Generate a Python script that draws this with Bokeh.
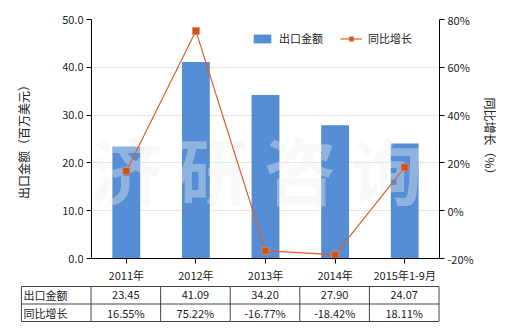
from bokeh.plotting import figure
from bokeh.models import (Range1d, LinearAxis, FactorRange, FixedTicker, NumeralTickFormatter,
                          PrintfTickFormatter, Legend, LegendItem)
from bokeh.layouts import column
from bokeh.embed import file_html
from bokeh.resources import INLINE
from bokeh.core.properties import value

# ---------------- data ----------------
categories = ["2011年", "2012年", "2013年", "2014年", "2015年1-9月"]
export_values = [23.45, 41.09, 34.20, 27.90, 24.07]
growth_values = [16.55, 75.22, -16.77, -18.42, 18.11]
left_ticks = [0, 10, 20, 30, 40, 50]
right_ticks = [-20, 0, 20, 40, 60, 80]
series_names = ["出口金额", "同比增长"]
left_axis_title = "出口金额（百万美元）"
right_axis_title = "同比增长（%）"
watermark_chars = ["济", "研", "咨", "询"]

# ---------------- style ----------------
FONT = "Noto Sans CJK SC"
W, H1, H2 = 520, 285, 45
BL, BR, BT, BB = 91, 81, 19, 26
BAR_COLOR = "#558ED5"
LINE_COLOR = "#D8602A"
MARK_COLOR = "#C8531B"
TEXT_COLOR = "#222222"

p = figure(width=W, height=H1, x_range=FactorRange(*categories), y_range=Range1d(0, 50),
           output_backend="svg", toolbar_location=None,
           min_border_left=BL, min_border_right=BR, min_border_top=BT, min_border_bottom=BB)
p.outline_line_color = None
p.frame_align = False
p.extra_y_ranges = {"pct": Range1d(-20, 80)}

bars = p.vbar(x=categories, top=export_values, width=0.4, fill_color=BAR_COLOR, line_color=None)

# watermark
wm_x = [0.5, 1.75, 3.0, 4.24]
p.text(x=wm_x, y=[19] * 4, text=watermark_chars, text_font=value(FONT), text_font_size="72px",
       text_font_style="bold", text_color="#EEEEEE", text_alpha=0.38,
       text_align="center", text_baseline="middle")

growth_line = p.line(x=categories, y=growth_values, y_range_name="pct",
                     line_color=LINE_COLOR, line_width=1.2)
growth_marks = p.scatter(x=categories, y=growth_values, y_range_name="pct", marker="square", size=7,
                         fill_color=MARK_COLOR, line_color="#E8865A", line_width=0.8)

legend = Legend(items=[LegendItem(label=series_names[0], renderers=[bars]),
                       LegendItem(label=series_names[1], renderers=[growth_line, growth_marks])],
                orientation="horizontal", location=(160, 212), border_line_color=None,
                background_fill_alpha=0, label_text_font=FONT, label_text_font_size="11px",
                label_text_color=TEXT_COLOR, glyph_width=22, glyph_height=11, label_standoff=6,
                spacing=17, padding=2, margin=0)
p.add_layout(legend)

# axes
right_axis = LinearAxis(y_range_name="pct")
p.add_layout(right_axis, "right")

for ax in [p.xaxis[0], p.yaxis[0], right_axis]:
    ax.axis_line_color = "black"
    ax.major_tick_line_color = "black"
    ax.major_tick_out = 5
    ax.major_tick_in = 0
    ax.minor_tick_line_color = None
    ax.major_label_text_font = FONT
    ax.major_label_text_font_size = "11px"
    ax.major_label_text_color = TEXT_COLOR
    ax.major_label_standoff = 3
    ax.axis_label_text_font = FONT
    ax.axis_label_text_font_size = "12px"
    ax.axis_label_text_font_style = "normal"
    ax.axis_label_text_color = TEXT_COLOR

p.yaxis[0].ticker = FixedTicker(ticks=left_ticks)
p.yaxis[0].formatter = NumeralTickFormatter(format="0.0")
p.yaxis[0].axis_label = left_axis_title
p.yaxis[0].axis_label_standoff = 27

right_axis.ticker = FixedTicker(ticks=right_ticks)
right_axis.formatter = PrintfTickFormatter(format="%d%%")
right_axis.axis_label = right_axis_title
right_axis.axis_label_standoff = 5

p.xgrid.visible = False
p.ygrid.grid_line_color = "#E6E6DE"
p.ygrid.ticker = FixedTicker(ticks=left_ticks)

# ---------------- table ----------------
t = figure(width=W, height=H2, x_range=Range1d(0, W), y_range=Range1d(H2, 0),
           output_backend="svg", toolbar_location=None, x_axis_type=None, y_axis_type=None,
           min_border=0, min_border_left=0, min_border_right=0, min_border_top=0, min_border_bottom=0)
t.outline_line_color = None
t.frame_align = False
t.grid.visible = False

cat_w = (W - BL - BR) / len(categories)
col_edges = [BL - cat_w - 0.5] + [BL - 0.5 + i * cat_w for i in range(len(categories) + 1)]
row_edges = [1, 18.5, 36]
x_left, x_right = col_edges[0], col_edges[-1]

t.segment(x0=[x_left] * 3, y0=row_edges, x1=[x_right] * 3, y1=row_edges, line_color="#444444", line_width=1)
t.segment(x0=col_edges, y0=[row_edges[0]] * len(col_edges), x1=col_edges,
          y1=[row_edges[-1]] * len(col_edges), line_color="#444444", line_width=1)

row_y = [(row_edges[0] + row_edges[1]) / 2, (row_edges[1] + row_edges[2]) / 2]
t.text(x=[x_left + 2] * 2, y=row_y, text=series_names, text_font=value(FONT),
       text_font_size="11px", text_color=TEXT_COLOR, text_align="left", text_baseline="middle")

centers = [BL - 0.5 + (i + 0.5) * cat_w for i in range(len(categories))]
t.text(x=centers, y=[row_y[0]] * len(centers), text=[f"{v:.2f}" for v in export_values],
       text_font=value(FONT), text_font_size="11px", text_color=TEXT_COLOR,
       text_align="center", text_baseline="middle")
t.text(x=centers, y=[row_y[1]] * len(centers), text=[f"{g:.2f}%" for g in growth_values],
       text_font=value(FONT), text_font_size="11px", text_color=TEXT_COLOR,
       text_align="center", text_baseline="middle")

layout = column(p, t, spacing=0)
open("out.html", "w").write(file_html(layout, INLINE))
